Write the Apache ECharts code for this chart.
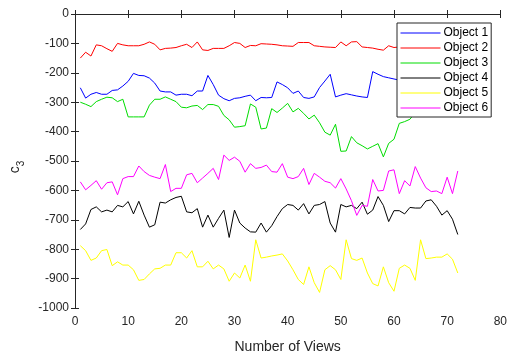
<!DOCTYPE html>
<html>
<head>
<meta charset="utf-8">
<script src="https://cdn.jsdelivr.net/npm/echarts@6/dist/echarts.min.js"></script>
<style>
html,body{margin:0;padding:0;background:#fff;}
#chart{width:510px;height:359px;}
</style>
</head>
<body>
<div id="chart"></div>
<script>
var views = [1,2,3,4,5,6,7,8,9,10,11,12,13,14,15,16,17,18,19,20,21,22,23,24,25,26,27,28,29,30,31,32,33,34,35,36,37,38,39,40,41,42,43,44,45,46,47,48,49,50,51,52,53,54,55,56,57,58,59,60,61,62,63,64,65,66,67,68,69,70,71,72];
var seriesNames = ['Object 1','Object 2','Object 3','Object 4','Object 5','Object 6'];
var seriesColors = ['#0000ff','#ff0000','#00dd00','#000000','#ffff00','#ff00ff'];
var object1 = [-251,-286,-273,-267,-273,-273,-260,-258,-245,-229,-202,-209,-210,-218,-235,-262,-265,-265,-276,-273,-273,-278,-262,-262,-209,-240,-276,-288,-295,-287,-285,-280,-276,-295,-284,-285,-284,-231,-240,-251,-270,-262,-284,-287,-282,-250,-228,-205,-282,-276,-271,-275,-279,-282,-284,-196,-205,-213,-217,-221,-225,-230,-228,-235,-232,-230,-228,-225,-230,-235,-232,-230];
var object2 = [-150,-130,-143,-105,-108,-118,-127,-100,-105,-108,-108,-108,-103,-95,-103,-122,-117,-116,-114,-108,-103,-114,-95,-122,-124,-117,-117,-117,-108,-97,-100,-114,-107,-108,-101,-102,-103,-105,-108,-109,-110,-97,-97,-97,-108,-110,-112,-113,-114,-95,-108,-95,-94,-112,-114,-116,-120,-123,-108,-114,-112,-110,-115,-108,-112,-118,-110,-113,-115,-110,-112,-114];
var object3 = [-300,-307,-315,-298,-290,-283,-285,-298,-290,-350,-350,-350,-350,-310,-290,-290,-282,-290,-298,-317,-319,-313,-311,-325,-308,-308,-314,-345,-360,-385,-383,-380,-306,-317,-391,-388,-322,-335,-320,-304,-333,-321,-338,-357,-344,-370,-402,-412,-375,-467,-466,-417,-438,-448,-459,-450,-441,-486,-440,-426,-372,-366,-358,-335,-320,-310,-305,-300,-310,-295,-300,-305];
var object4 = [-733,-714,-665,-656,-673,-667,-673,-651,-656,-638,-680,-637,-684,-725,-717,-640,-643,-632,-624,-620,-673,-676,-662,-725,-684,-725,-695,-667,-760,-667,-711,-728,-741,-742,-711,-742,-720,-689,-662,-648,-651,-667,-645,-680,-651,-648,-638,-711,-742,-648,-656,-651,-662,-640,-681,-667,-621,-651,-706,-669,-669,-680,-658,-660,-660,-636,-632,-654,-684,-669,-698,-750];
var object5 = [-788,-805,-838,-830,-805,-801,-856,-843,-854,-854,-870,-906,-903,-884,-867,-865,-854,-854,-812,-812,-830,-805,-860,-860,-841,-867,-854,-867,-909,-881,-898,-854,-909,-768,-830,-827,-823,-820,-816,-840,-870,-903,-920,-860,-914,-947,-870,-856,-870,-903,-768,-832,-838,-830,-881,-917,-925,-860,-914,-943,-865,-854,-865,-906,-768,-832,-830,-827,-827,-816,-834,-881];
var object6 = [-571,-598,-583,-567,-596,-574,-571,-615,-560,-553,-553,-517,-536,-549,-555,-560,-512,-604,-593,-593,-547,-542,-574,-558,-542,-525,-563,-480,-498,-487,-501,-538,-509,-525,-522,-514,-536,-538,-509,-555,-560,-553,-525,-580,-542,-555,-569,-574,-592,-560,-595,-635,-685,-651,-654,-563,-602,-600,-534,-530,-611,-567,-585,-519,-558,-591,-604,-602,-611,-555,-611,-534];
var xTicks = {min: 0, max: 80, interval: 10};
var yTicks = {min: -1000, max: 0, interval: 100};
var xTitle = 'Number of Views';

var allValues = [object1, object2, object3, object4, object5, object6];
var axisColor = '#262626';
var font = 'Liberation Sans, Arial, sans-serif';

function makeSeries(i) {
  return {
    name: seriesNames[i],
    type: 'line',
    symbol: 'none',
    data: views.map(function (v, k) { return [v, allValues[i][k]]; }),
    lineStyle: {color: seriesColors[i], width: 1},
    itemStyle: {color: seriesColors[i]},
    animation: false
  };
}

var chart = echarts.init(document.getElementById('chart'));
chart.setOption({
  backgroundColor: '#ffffff',
  animation: false,
  grid: {left: 68, right: 7, top: 14, bottom: 41},
  legend: {
    orient: 'vertical',
    left: 397, top: 23,
    width: 95,
    padding: [4, 3, 3, 3],
    itemGap: 3,
    itemWidth: 40,
    itemHeight: 12,
    backgroundColor: '#ffffff',
    borderColor: axisColor,
    borderWidth: 1,
    itemStyle: {opacity: 0},
    lineStyle: {width: 1},
    textStyle: {fontFamily: font, fontSize: 12, color: '#000', padding: [0, 0, 0, -2]},
    data: seriesNames
  },
  xAxis: [{
    type: 'value', min: xTicks.min, max: xTicks.max, interval: xTicks.interval,
    name: xTitle, nameLocation: 'middle', nameGap: 32,
    nameTextStyle: {fontFamily: font, fontSize: 14, color: axisColor},
    axisLine: {show: true, lineStyle: {color: axisColor, width: 1}},
    axisTick: {show: true, inside: true, length: 4, lineStyle: {color: axisColor}},
    axisLabel: {fontFamily: font, fontSize: 12, color: axisColor, margin: 8},
    splitLine: {show: false}
  }, {
    type: 'value', position: 'top', min: xTicks.min, max: xTicks.max, interval: xTicks.interval,
    axisLine: {show: true, lineStyle: {color: axisColor, width: 1}},
    axisTick: {show: true, inside: true, length: 4, lineStyle: {color: axisColor}},
    axisLabel: {show: false},
    splitLine: {show: false}
  }],
  yAxis: [{
    type: 'value', min: yTicks.min, max: yTicks.max, interval: yTicks.interval,
    name: '{c|c}{s|3}', nameLocation: 'middle', nameGap: 53, nameRotate: 90,
    nameTextStyle: {
      fontFamily: font, color: axisColor, padding: [0, 12, 0, 0],
      rich: {
        c: {fontFamily: font, fontSize: 14, color: axisColor, verticalAlign: 'bottom', lineHeight: 20},
        s: {fontFamily: font, fontSize: 10, color: axisColor, verticalAlign: 'bottom', lineHeight: 20, padding: [0, 0, -4, 0]}
      }
    },
    axisLine: {show: true, lineStyle: {color: axisColor, width: 1}},
    axisTick: {show: true, inside: true, length: 4, lineStyle: {color: axisColor}},
    axisLabel: {fontFamily: font, fontSize: 12, color: axisColor, margin: 6,
      formatter: function (v) { return String(v); }},
    splitLine: {show: false}
  }, {
    type: 'value', position: 'right', min: yTicks.min, max: yTicks.max, interval: yTicks.interval,
    axisLine: {show: true, lineStyle: {color: axisColor, width: 1}},
    axisTick: {show: true, inside: true, length: 4, lineStyle: {color: axisColor}},
    axisLabel: {show: false},
    splitLine: {show: false}
  }],
  series: [0, 1, 2, 3, 4, 5].map(makeSeries)
});
</script>
</body>
</html>
